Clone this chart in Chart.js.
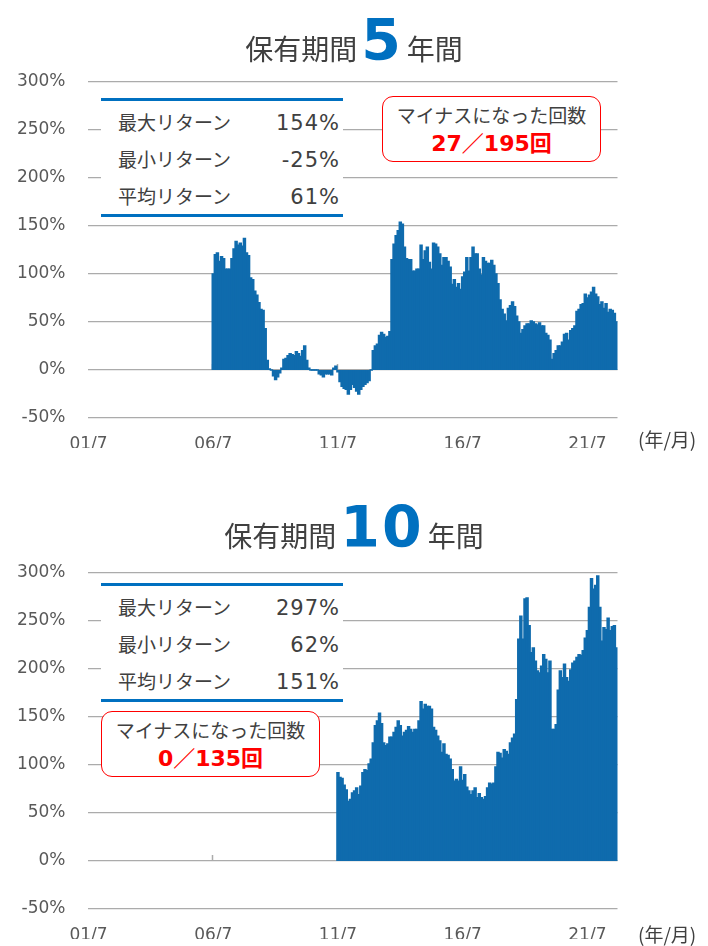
<!DOCTYPE html>
<html>
<head>
<meta charset="utf-8">
<script src="https://cdn.jsdelivr.net/npm/chart.js@4.4.0/dist/chart.umd.min.js"></script>
<style>
  body { margin: 0; width: 708px; height: 946px; background: #fff; position: relative; overflow: hidden;
         font-family: "Noto Sans CJK JP", sans-serif; color: #404040; }
  .box { position: absolute; left: 0; width: 708px; height: 455px; }
  .title { position: absolute; left: 0; width: 708px; display: flex; justify-content: center; align-items: baseline;
           font-size: 28px; line-height: 1; white-space: nowrap; }
  .title .num { font-family: "DejaVu Sans", sans-serif; font-weight: bold; font-size: 57px; color: #0070C0;
                margin: 0 4px; letter-spacing: 2px; }
  .stats { position: absolute; left: 101px; width: 242px; background: #fff; padding-top: 2px;
           border-top: 3px solid #0070C0; border-bottom: 3px solid #0070C0; }
  .stats .row { display: flex; justify-content: space-between; align-items: baseline; height: 37px; line-height: 37px;
                padding: 0 3px 0 17px; font-size: 19px; }
  .stats .row b { font-weight: normal; font-family: "DejaVu Sans", sans-serif; font-size: 21px; letter-spacing: 1px; }
  .minus { position: absolute; width: 217px; height: 64px; border: 1.5px solid #ff0000; border-radius: 11px;
           background: #fff; text-align: center; }
  .minus .l1 { margin-top: 4px; line-height: 28px; font-size: 19px; }
  .minus .l2 { line-height: 30px; font-size: 22px; font-weight: bold; color: #ff0000;
               font-family: "DejaVu Sans", "Noto Sans CJK JP", sans-serif; }
  .unit { position: absolute; left: 638px; font-size: 19px; color: #404040; line-height: 20px; }
</style>
</head>
<body>

<div class="box" style="top:0px"><canvas id="chart5"></canvas></div>
<div class="box" style="top:491px"><canvas id="chart10"></canvas></div>

<div class="title" style="top:12px">保有期間<span class="num">5</span>年間</div>
<div class="title" style="top:499px">保有期間<span class="num">10</span>年間</div>

<div class="stats" style="top:98px">
  <div class="row"><span>最大リターン</span><b>154%</b></div>
  <div class="row"><span>最小リターン</span><b>-25%</b></div>
  <div class="row"><span>平均リターン</span><b>61%</b></div>
</div>
<div class="minus" style="left:382px; top:96px">
  <div class="l1">マイナスになった回数</div>
  <div class="l2">27／195回</div>
</div>

<div class="stats" style="top:583px">
  <div class="row"><span>最大リターン</span><b>297%</b></div>
  <div class="row"><span>最小リターン</span><b>62%</b></div>
  <div class="row"><span>平均リターン</span><b>151%</b></div>
</div>
<div class="minus" style="left:101px; top:711px">
  <div class="l1">マイナスになった回数</div>
  <div class="l2">0／135回</div>
</div>

<div class="unit" style="top:429px">(年/月)</div>
<div class="unit" style="top:924px">(年/月)</div>

<script>
// months 2001/7 .. 2022/9
const startYear = 2001, startMonth = 7, monthCount = 255;
const tickLabels = ["01/7", "06/7", "11/7", "16/7", "21/7"];
const yTicks = [-50, 0, 50, 100, 150, 200, 250, 300];

// 5 year holding return (%), from 2006/7
const return5 = [
  100,120,122,113,118,116,105,105,105,116,126,134,130,132,129,137,122,119,96,94,82,78,70,63,62,43,10,1,
  0,-6,-10,-7,-3,2,11,12,15,17,16,15,19,17,14,20,25,10,2,
  0,0,0,0,-4,-5,-7,-4,-4,-4,-5,2,4,-2,-12,-17,-19,-20,-25,-20,-15,-18,-22,-25,-20,-17,-15,-13,-11,0,
  20,25,27,36,39,37,34,35,40,115,131,140,145,154,152,128,
  116,115,115,103,103,105,105,130,115,124,128,112,105,132,131,128,121,109,117,117,113,107,89,94,
  86,90,84,97,102,117,103,117,128,121,121,105,99,117,113,111,111,114,109,100,90,73,63,58,
  51,64,67,71,66,56,50,38,42,46,48,48,51,50,48,47,49,46,46,38,36,31,11,17,20,25,25,29,37,38,31,
  41,43,46,61,63,68,69,79,75,78,81,86,79,76,68,71,64,69,60,63,62,59,50
];

// 10 year holding return (%), from 2011/7
const return10 = [
  92,87,86,79,74,62,64,71,73,76,69,78,92,95,94,101,106,123,141,146,154,143,123,120,122,129,129,134,
  139,146,141,130,134,136,140,137,134,137,137,146,166,158,163,161,
  161,158,139,136,130,125,113,122,111,110,106,95,83,85,83,98,84,90,77,73,69,73,76,66,70,66,64,67,
  76,81,80,81,98,113,112,107,116,114,111,123,128,132,
  168,231,255,231,273,274,245,217,222,208,198,196,203,215,210,196,208,137,137,142,178,198,191,205,
  191,187,199,206,208,212,215,214,219,232,240,264,294,283,287,297,264,229,243,241,253,240,244,245,222
];

const barColor = "#0F6BAD";
const gridColor = "#ABABAB";
const labelColor = "#595959";

const categories = [];
for (let i = 0; i < monthCount; i++) {
  const m = startMonth - 1 + i;
  const y = startYear + Math.floor(m / 12);
  categories.push(String(y % 100).padStart(2, "0") + "/" + (m % 12 + 1));
}

function padded(values) {
  return Array(monthCount - values.length).fill(null).concat(values);
}

// small tick marks on the 0% line
const zeroTicks = {
  id: "zeroTicks",
  beforeDatasetsDraw(chart) {
    const xs = chart.scales.x, ys = chart.scales.y, ctx = chart.ctx;
    const y0 = ys.getPixelForValue(0);
    const half = (xs.getPixelForValue(1) - xs.getPixelForValue(0)) / 2;
    ctx.save();
    ctx.strokeStyle = gridColor;
    ctx.lineWidth = 1.5;
    categories.forEach((c, i) => {
      if (i > 0 && tickLabels.includes(c)) {
        const px = Math.round(xs.getPixelForValue(i) - half) + 0.5;
        ctx.beginPath();
        ctx.moveTo(px, y0);
        ctx.lineTo(px, y0 - 6);
        ctx.stroke();
      }
    });
    ctx.restore();
  }
};

function makeChart(id, values) {
  return new Chart(document.getElementById(id), {
    type: "bar",
    data: {
      labels: categories,
      datasets: [{
        data: padded(values),
        backgroundColor: barColor,
        borderWidth: 0,
        inflateAmount: 0.7,
        barPercentage: 1,
        categoryPercentage: 1
      }]
    },
    options: {
      responsive: true,
      maintainAspectRatio: false,
      animation: false,
      layout: { padding: { top: 82, right: 90.5, bottom: 7, left: 0 } },
      plugins: { legend: { display: false }, tooltip: { enabled: false } },
      scales: {
        x: {
          grid: { display: false, drawTicks: false },
          border: { display: false },
          ticks: {
            autoSkip: false, maxRotation: 0, minRotation: 0, padding: 16,
            color: labelColor, font: { family: "DejaVu Sans", size: 17 },
            callback: (v) => tickLabels.includes(categories[v]) ? categories[v] : ""
          },
          afterFit: (s) => { s.height = 30; }
        },
        y: {
          min: yTicks[0], max: yTicks[yTicks.length - 1],
          grid: { color: gridColor, lineWidth: 1.3, drawTicks: false },
          border: { display: false },
          ticks: {
            stepSize: 50, padding: 22,
            color: labelColor, font: { family: "DejaVu Sans", size: 17 },
            callback: (v) => v + "%"
          },
          afterFit: (s) => { s.width = 87.5; }
        }
      }
    },
    plugins: [zeroTicks]
  });
}

makeChart("chart5", return5);
makeChart("chart10", return10);
</script>
</body>
</html>
